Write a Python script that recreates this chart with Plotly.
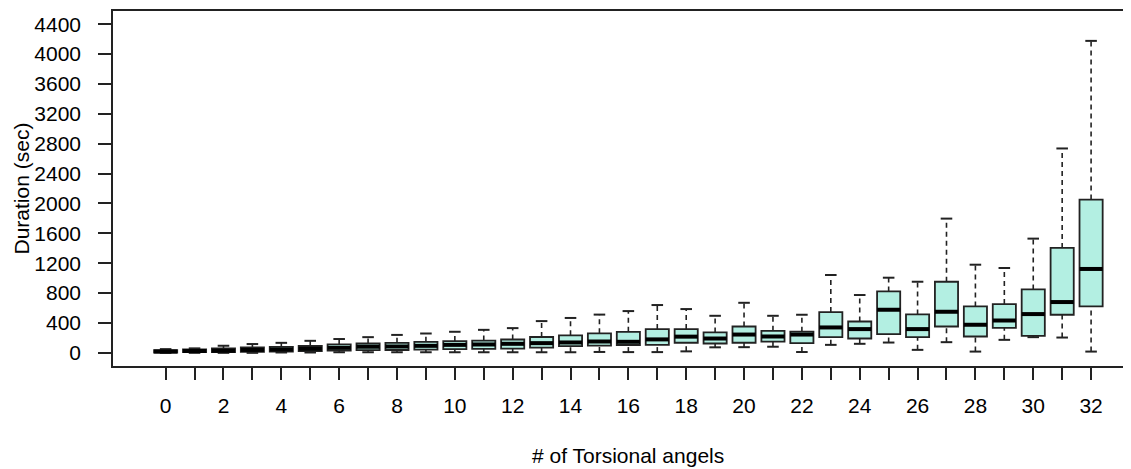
import plotly.graph_objects as go

# ---- data ----
groups = list(range(33))
upper = [50, 60, 95, 118, 134, 161, 185, 210, 240, 259, 282, 308, 331, 425, 467, 512, 559,
         640, 586, 496, 670, 496, 510, 1042, 774, 1006, 952, 1797, 1180, 1136, 1529, 2736, 4176]
q3 = [35, 45, 58, 72, 80, 92, 114, 125, 134, 148, 157, 165, 179, 212, 235, 262, 282,
      318, 318, 273, 353, 295, 284, 546, 420, 822, 514, 952, 621, 653, 849, 1404, 2052]
median = [18, 25, 28, 40, 45, 54, 67, 82, 85, 94, 107, 112, 121, 130, 139, 152, 148,
          180, 217, 192, 245, 219, 245, 340, 318, 577, 318, 550, 376, 433, 519, 680, 1123]
q1 = [5, 9, 9, 13, 18, 22, 31, 36, 38, 42, 50, 52, 56, 70, 90, 98, 105,
      107, 135, 125, 135, 150, 130, 210, 192, 251, 210, 353, 219, 335, 228, 510, 621]
lower = [0, 0, 0, 0, 5, 5, 8, 8, 8, 8, 8, 8, 8, 8, 8, 12, 10,
         10, 20, 74, 76, 82, 11, 107, 121, 138, 40, 143, 17, 174, 210, 205, 17]
y_ticks = list(range(0, 4401, 400))
x_tick_text = [str(g) if g % 2 == 0 else "" for g in groups]

# ---- styles ----
FILL = "#B3EFE2"
EDGE = "#222222"
FONT = "Liberation Sans, Arial, sans-serif"
BOX_W = 0.8
CAP_HALF = BOX_W / 4

fig = go.Figure()

# whiskers (dashed)
wx, wy = [], []
for g, lo, a, b, hi in zip(groups, lower, q1, q3, upper):
    wx += [g, g, None, g, g, None]
    wy += [b, hi, None, lo, a, None]
fig.add_trace(go.Scatter(x=wx, y=wy, mode="lines",
                         line=dict(color=EDGE, width=1.6, dash="5px,4px"),
                         hoverinfo="skip", showlegend=False))

# caps
cx, cy = [], []
for g, lo, hi in zip(groups, lower, upper):
    cx += [g - CAP_HALF, g + CAP_HALF, None, g - CAP_HALF, g + CAP_HALF, None]
    cy += [hi, hi, None, lo, lo, None]
fig.add_trace(go.Scatter(x=cx, y=cy, mode="lines",
                         line=dict(color=EDGE, width=2),
                         hoverinfo="skip", showlegend=False))

# boxes
fig.add_trace(go.Box(x=groups, q1=q1, median=median, q3=q3,
                     lowerfence=q1, upperfence=q3,
                     width=BOX_W, whiskerwidth=0, boxpoints=False,
                     fillcolor=FILL, line=dict(color=EDGE, width=1.8),
                     hoverinfo="skip", showlegend=False))

# thick medians
mx, my = [], []
for g, m in zip(groups, median):
    mx += [g - BOX_W / 2, g + BOX_W / 2, None]
    my += [m, m, None]
fig.add_trace(go.Scatter(x=mx, y=my, mode="lines",
                         line=dict(color="black", width=4),
                         hoverinfo="skip", showlegend=False))

# page body has an 8px margin: figure is sized/offset to compensate
fig.update_layout(
    width=1123, height=461,
    margin=dict(l=105, r=0, t=3, b=103),
    paper_bgcolor="white", plot_bgcolor="white",
    font=dict(family=FONT, size=21, color="black"),
    showlegend=False,
    xaxis=dict(range=[-1.82, 33.38], tickmode="array", tickvals=groups, ticktext=x_tick_text,
               ticks="outside", ticklen=12, tickwidth=1.5, tickcolor=EDGE,
               showline=True, linecolor=EDGE, linewidth=1.5, mirror=True,
               showgrid=False, zeroline=False, ticklabelstandoff=8,
               tickfont=dict(size=21)),
    yaxis=dict(range=[-176, 4576], tickmode="array", tickvals=y_ticks,
               ticks="outside", ticklen=13, tickwidth=1.5, tickcolor=EDGE,
               showline=True, linecolor=EDGE, linewidth=1.5,
               showgrid=False, zeroline=False, ticklabelstandoff=13,
               tickfont=dict(size=21)),
    annotations=[
        dict(text="# of Torsional angels", xref="paper", yref="paper",
             x=0.506, y=-0.251, xanchor="center", yanchor="middle",
             showarrow=False, font=dict(size=21)),
        dict(text="Duration (sec)", xref="paper", yref="paper",
             x=-0.0894, y=0.5, xanchor="center", yanchor="middle",
             textangle=-90, showarrow=False, font=dict(size=21)),
    ],
)

fig.write_html("out.html")
